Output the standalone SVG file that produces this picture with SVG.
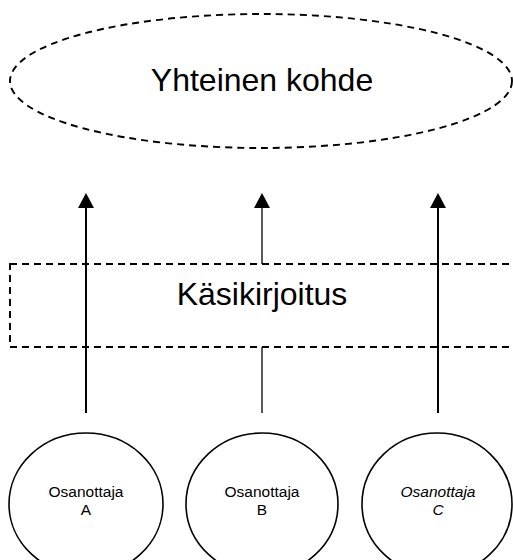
<svg xmlns="http://www.w3.org/2000/svg" width="513" height="560" viewBox="0 0 513 560">
<defs>
<style>
.dash{fill:none;stroke:#000;stroke-width:1.9;stroke-dasharray:7 5}
.node{fill:#fff;stroke:#000;stroke-width:1.6}
.big{font-family:"Liberation Sans",Arial,sans-serif;font-size:32px;fill:#000;text-anchor:middle}
.small{font-family:"Liberation Sans",Arial,sans-serif;font-size:15.5px;fill:#000;text-anchor:middle}
.conn{stroke:#000;fill:none}
.head{fill:#000}
</style>
</defs>
<g id="yhteinen-kohde">
<ellipse class="dash" cx="261" cy="81" rx="251" ry="67"/>
<text class="big" x="262" y="91">Yhteinen kohde</text>
</g>
<g id="kasikirjoitus">
<rect class="dash" x="10" y="264" width="520" height="83"/>
<text class="big" x="262" y="305">Käsikirjoitus</text>
</g>
<g id="connectors">
<line class="conn" stroke-width="2" x1="86" y1="413" x2="86" y2="206"/>
<polygon class="head" points="86,193 78,208 94,208"/>
<line class="conn" stroke-width="1.3" x1="262" y1="413" x2="262" y2="347"/>
<line class="conn" stroke-width="1.3" x1="262" y1="264" x2="262" y2="206"/>
<polygon class="head" points="262,193 254,208 270,208"/>
<line class="conn" stroke-width="2" x1="438" y1="413" x2="438" y2="206"/>
<polygon class="head" points="438,193 430,208 446,208"/>
</g>
<g id="osanottaja-a">
<ellipse class="node" cx="86" cy="504" rx="77" ry="71"/>
<text class="small" x="86" y="497">Osanottaja</text>
<text class="small" x="86" y="515">A</text>
</g>
<g id="osanottaja-b">
<ellipse class="node" cx="262" cy="504" rx="76" ry="71"/>
<text class="small" x="262" y="497">Osanottaja</text>
<text class="small" x="262" y="515">B</text>
</g>
<g id="osanottaja-c">
<ellipse class="node" cx="437" cy="504" rx="75" ry="71"/>
<text class="small" x="438" y="497" font-style="italic">Osanottaja</text>
<text class="small" x="438" y="515" font-style="italic">C</text>
</g>
</svg>
